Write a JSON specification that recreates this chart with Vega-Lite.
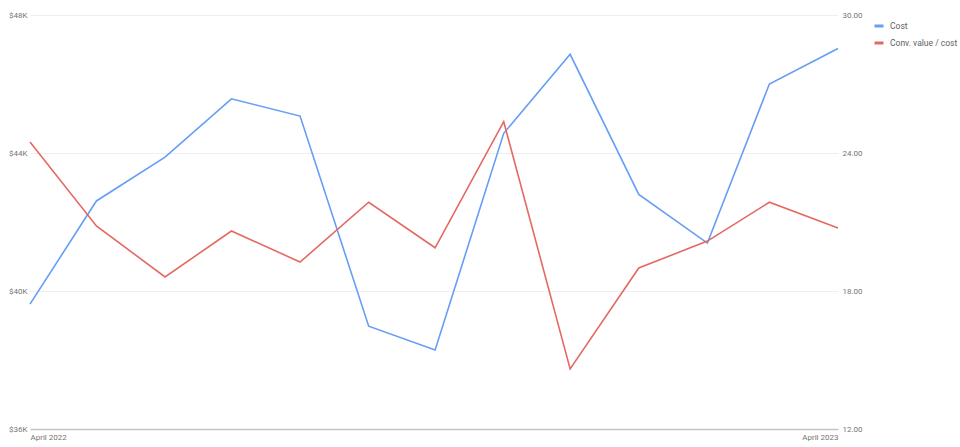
{
  "$schema": "https://vega.github.io/schema/vega-lite/v6.json",
  "width": 808,
  "height": 414,
  "autosize": {"type": "none"},
  "padding": {"left": 30, "top": 15, "right": 122, "bottom": 18},
  "background": "white",
  "config": {
    "view": {"stroke": null},
    "font": "Roboto",
    "axis": {"labelColor": "#757575", "labelFontSize": 8, "labelFont": "Roboto", "titleColor": "#757575"},
    "legend": {"labelColor": "#616161", "labelFontSize": 8.5, "labelFont": "Roboto"}
  },
  "data": {
    "values": [
      {"month": "2022-04-01T00:00:00", "cost": 39620, "roas": 24.48},
      {"month": "2022-05-01T00:00:00", "cost": 42610, "roas": 20.83},
      {"month": "2022-06-01T00:00:00", "cost": 43880, "roas": 18.61},
      {"month": "2022-07-01T00:00:00", "cost": 45570, "roas": 20.61},
      {"month": "2022-08-01T00:00:00", "cost": 45070, "roas": 19.26},
      {"month": "2022-09-01T00:00:00", "cost": 38980, "roas": 21.86},
      {"month": "2022-10-01T00:00:00", "cost": 38290, "roas": 19.88},
      {"month": "2022-11-01T00:00:00", "cost": 44570, "roas": 25.36},
      {"month": "2022-12-01T00:00:00", "cost": 46860, "roas": 14.61},
      {"month": "2023-01-01T00:00:00", "cost": 42800, "roas": 19.00},
      {"month": "2023-02-01T00:00:00", "cost": 41390, "roas": 20.17},
      {"month": "2023-03-01T00:00:00", "cost": 46000, "roas": 21.86},
      {"month": "2023-04-01T00:00:00", "cost": 47030, "roas": 20.74}
    ]
  },
  "encoding": {
    "x": {
      "field": "month",
      "type": "temporal",
      "scale": {"padding": 0, "nice": false},
      "axis": {
        "title": null,
        "values": [
          {"year": 2022, "month": 4, "date": 1},
          {"year": 2023, "month": 4, "date": 1}
        ],
        "format": "%B %Y",
        "labelFlush": true,
        "grid": false,
        "ticks": false,
        "domainColor": "#c4c4c4",
        "domainWidth": 1.5,
        "labelPadding": 4
      }
    }
  },
  "layer": [
    {
      "mark": {"type": "line", "strokeWidth": 1.6, "interpolate": "linear"},
      "encoding": {
        "y": {
          "field": "cost",
          "type": "quantitative",
          "scale": {"domain": [36000, 48000], "nice": false, "zero": false},
          "axis": {
            "title": null,
            "orient": "left",
            "values": [36000, 40000, 44000, 48000],
            "labelExpr": "'$' + (datum.value / 1000) + 'K'",
            "grid": true,
            "gridColor": "#efefef",
            "domain": false,
            "ticks": false,
            "labelPadding": 3
          }
        },
        "color": {
          "datum": "Cost",
          "type": "nominal",
          "scale": {"domain": ["Cost", "Conv. value / cost"], "range": ["#669df6", "#e46962"]},
          "legend": {
            "title": null,
            "orient": "none",
            "legendX": 843,
            "legendY": 5,
            "padding": 0,
            "symbolType": "stroke",
            "symbolStrokeWidth": 3,
            "symbolSize": 81,
            "labelOffset": 5,
            "rowPadding": 5
          }
        }
      }
    },
    {
      "mark": {"type": "line", "strokeWidth": 1.6, "interpolate": "linear"},
      "encoding": {
        "y": {
          "field": "roas",
          "type": "quantitative",
          "scale": {"domain": [12, 30], "nice": false, "zero": false},
          "axis": {
            "title": null,
            "orient": "right",
            "values": [12, 18, 24, 30],
            "format": ".2f",
            "grid": false,
            "domain": false,
            "ticks": false,
            "labelPadding": 4
          }
        },
        "color": {"datum": "Conv. value / cost", "type": "nominal"}
      }
    }
  ],
  "resolve": {"scale": {"y": "independent"}}
}
